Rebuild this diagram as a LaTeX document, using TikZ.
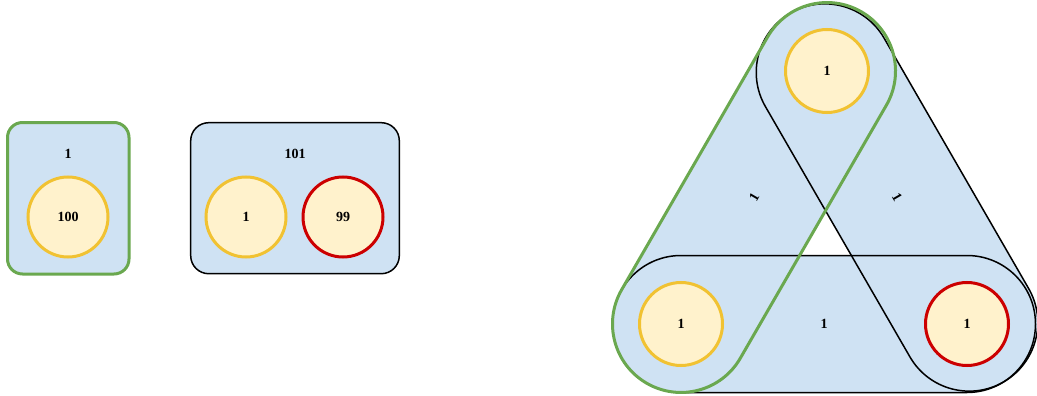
\documentclass[tikz,border=0pt]{standalone}
\usepackage{fontspec}
\setmainfont{Liberation Serif}
\usetikzlibrary{shapes.misc, positioning, calc}
\definecolor{setfill}{HTML}{CFE2F3}
\definecolor{setgreen}{HTML}{6AA84F}
\definecolor{elemfill}{HTML}{FFF2CC}
\definecolor{elemyellow}{HTML}{F1C232}
\definecolor{elemred}{HTML}{CC0000}
\tikzset{
  set box/.style={
    rectangle, rounded corners=18pt, fill=setfill, draw=black,
    line width=1.5pt, inner sep=0pt
  },
  set box sel/.style={
    set box, draw=setgreen, line width=3pt, rounded corners=15pt
  },
  elem/.style={
    circle, fill=elemfill, line width=3pt, inner sep=0pt,
    minimum size=80pt
  },
  elem ok/.style={elem, draw=elemyellow},
  elem bad/.style={elem, draw=elemred},
  cap fill/.style={
    rounded rectangle, fill=setfill, inner sep=0pt,
    minimum height=137pt
  },
  cap line/.style={
    rounded rectangle, draw=black, line width=1.5pt, inner sep=0pt,
    minimum height=137pt
  },
  cap sel/.style={
    cap line, draw=setgreen, line width=3pt
  }
}

\begin{document}
\begin{tikzpicture}[x=1pt, y=-1pt, font=\bfseries\fontsize{14}{16}\selectfont]
\useasboundingbox (0,0) rectangle (1037,396);

% ====== single set ======
\node[set box sel, minimum width=121.5pt, minimum height=151.5pt] (boxA) at (68.25,198.25) {};
\node (boxAlbl) at (68,154) {1};
\node[elem ok] (elA) at (68,217) {100};

% ====== split set ======
\node[set box, minimum width=208.6pt, minimum height=151pt] (boxB) at (295,198.2) {};
\node (boxBlbl) at (295,154) {101};
\node[elem ok] (elB1) at (246,217) {1};
\node[elem bad] (elB2) at (343,217) {99};

% ====== triangle of pairs ======
\coordinate (vT) at (827,71);
\coordinate (vL) at (681,324);
\coordinate (vR) at (967,324);

% fills first
\node[cap fill, minimum width=423pt] (capBfill) at ($(vL)!0.5!(vR)$) {};
\node[cap fill, minimum width=426pt, rotate=-60] (capRfill) at ($(vT)!0.5!(vR)$) {};
\node[cap fill, minimum width=429pt, rotate=60] (capLfill) at ($(vL)!0.5!(vT)$) {};

% outlines
\node[cap line, minimum width=423pt] (capB) at ($(vL)!0.5!(vR)$) {1};
\node[cap line, minimum width=426pt, rotate=-60] (capR) at ($(vT)!0.5!(vR)$) {1};
\node[cap sel, minimum width=429pt, rotate=60] (capL) at ($(vL)!0.5!(vT)$) {1};

\node[elem ok, minimum size=83pt] (elT) at (vT) {1};
\node[elem ok, minimum size=83pt] (elL) at (vL) {1};
\node[elem bad, minimum size=83pt] (elR) at (vR) {1};

\end{tikzpicture}
\end{document}
